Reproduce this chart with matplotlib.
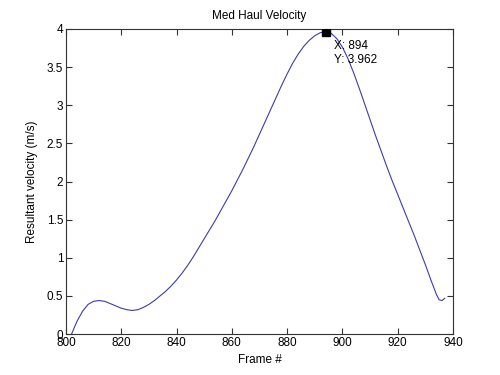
import matplotlib
matplotlib.use("Agg")
import matplotlib.pyplot as plt

frames = [802, 804, 806, 808, 810, 812, 814, 816, 818, 820, 822, 824, 826, 828,
          830, 832, 834, 836, 838, 840, 842, 844, 846, 848, 850, 852, 854, 856,
          858, 860, 862, 864, 866, 868, 870, 872, 874, 876, 878, 880, 882, 884,
          886, 888, 890, 892, 894, 896, 898, 900, 902, 904, 906, 908, 910, 912,
          914, 916, 918, 920, 922, 924, 926, 928, 930, 932, 934, 935, 936, 937]
velocity = [0.00, 0.17, 0.30, 0.39, 0.43, 0.44, 0.43, 0.40, 0.37, 0.34, 0.32, 0.31, 0.32, 0.35,
            0.39, 0.44, 0.50, 0.56, 0.63, 0.71, 0.80, 0.90, 1.01, 1.13, 1.25, 1.37, 1.49, 1.62,
            1.75, 1.88, 2.02, 2.16, 2.31, 2.46, 2.62, 2.78, 2.94, 3.10, 3.26, 3.41, 3.55, 3.67,
            3.77, 3.85, 3.91, 3.95, 3.962, 3.94, 3.87, 3.76, 3.61, 3.43, 3.23, 3.02, 2.81, 2.60,
            2.40, 2.20, 2.01, 1.83, 1.65, 1.47, 1.29, 1.10, 0.91, 0.71, 0.52, 0.45, 0.44, 0.47]

tip_x = 894
tip_y = 3.962

x_ticks = [800, 820, 840, 860, 880, 900, 920, 940]
y_ticks = [0, 0.5, 1, 1.5, 2, 2.5, 3, 3.5, 4]
y_tick_labels = ["0", "0.5", "1", "1.5", "2", "2.5", "3", "3.5", "4"]

plt.rcParams['font.family'] = ['Liberation Sans', 'DejaVu Sans']
plt.rcParams['font.size'] = 8.5

fig = plt.figure(figsize=(5, 3.75), dpi=100)
ax = fig.add_axes([0.132, 0.109, 0.774, 0.814])

ax.plot(frames, velocity, color='#3c3caa', lw=0.8)
ax.plot([tip_x], [tip_y], marker='s', color='black', markersize=6, linestyle='none', zorder=5)
ax.annotate(f"X: {tip_x}\nY: {tip_y}", xy=(tip_x, tip_y), xytext=(6, -6),
            textcoords='offset points', ha='left', va='top', fontsize=8.5,
            linespacing=1.25, color='black')

ax.set_xlim(800, 940)
ax.set_ylim(0, 4)
ax.set_xticks(x_ticks)
ax.set_yticks(y_ticks)
ax.set_yticklabels(y_tick_labels)
ax.tick_params(direction='in', top=True, right=True, length=4, width=0.8,
               colors='#333333', labelcolor='black', labelsize=8.5, pad=2)
for s in ax.spines.values():
    s.set_color('#333333')
    s.set_linewidth(0.8)

ax.set_title("Med Haul Velocity", fontsize=8.5, pad=7)
ax.set_xlabel("Frame #", fontsize=8.5, labelpad=4)
ax.set_ylabel("Resultant velocity (m/s)", fontsize=8.5, labelpad=6)

fig.savefig("out.png", dpi=100)
